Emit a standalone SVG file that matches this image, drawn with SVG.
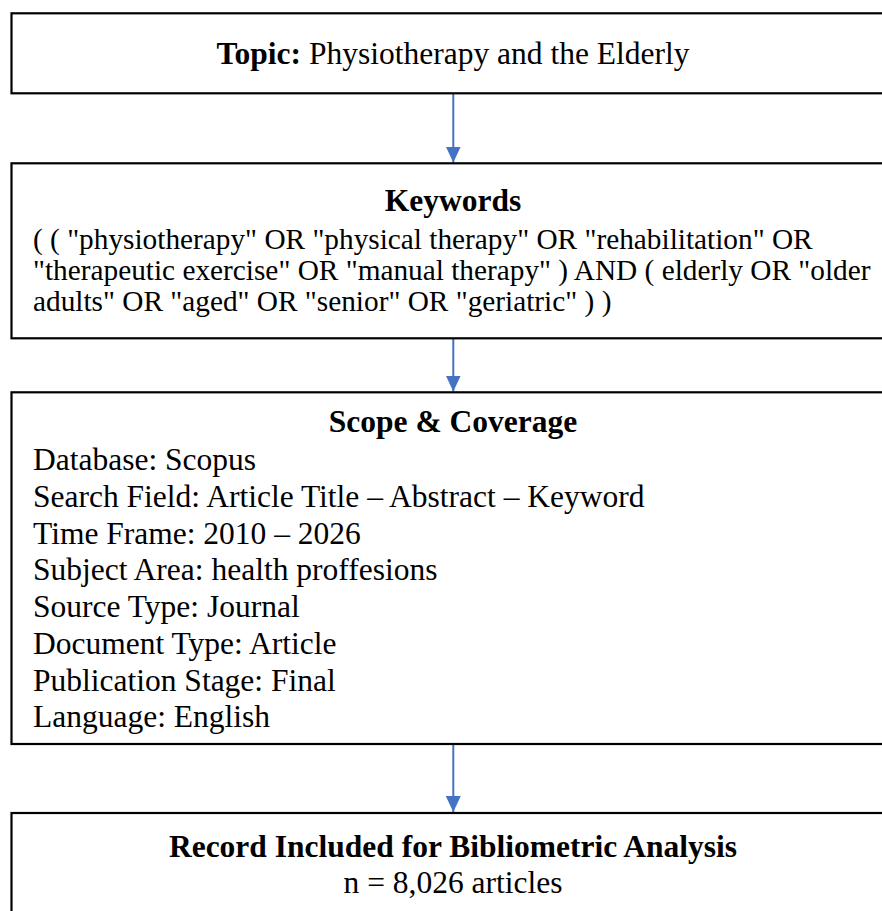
<svg xmlns="http://www.w3.org/2000/svg" width="882" height="911" viewBox="0 0 882 911">
<style>
.box{fill:#fff;stroke:#000;stroke-width:2.2}
.t{font-family:"Liberation Serif","Times New Roman",serif;fill:#000}
.b{font-weight:bold}
.c{text-anchor:middle}
.f31{font-size:31.5px}
.f29{font-size:29.3px}
.conn{stroke:#4472C4;stroke-width:2;fill:none}
</style>
<defs>
<marker id="ah" markerUnits="userSpaceOnUse" markerWidth="16" markerHeight="15" refX="16" refY="7.5" orient="auto" viewBox="0 0 16 15">
<polygon points="0,0 16,7.5 0,15" fill="#4472C4"/>
</marker>
</defs>
<rect width="882" height="911" fill="#fff"/>
<g id="connectors">
<line class="conn" x1="453.3" y1="94" x2="453.3" y2="162.5" marker-end="url(#ah)"/>
<line class="conn" x1="453.3" y1="339" x2="453.3" y2="391.5" marker-end="url(#ah)"/>
<line class="conn" x1="453.3" y1="745" x2="453.3" y2="812" marker-end="url(#ah)"/>
</g>
<g id="topic">
<rect class="box" x="11.5" y="13.3" width="890" height="80"/>
<text class="t f31 c" x="453" y="64"><tspan class="b">Topic:</tspan> Physiotherapy and the Elderly</text>
</g>
<g id="keywords">
<rect class="box" x="11.5" y="163.3" width="890" height="175"/>
<text class="t f31 b c" x="453" y="210.5">Keywords</text>
<text class="t f29" x="33" y="249">( ( "physiotherapy" OR "physical therapy" OR "rehabilitation" OR</text>
<text class="t f29" x="33" y="280">"therapeutic exercise" OR "manual therapy" ) AND ( elderly OR "older</text>
<text class="t f29" x="33" y="311">adults" OR "aged" OR "senior" OR "geriatric" ) )</text>
</g>
<g id="scope">
<rect class="box" x="11.5" y="392.3" width="890" height="351.7"/>
<text class="t f31 b c" x="453" y="432">Scope &amp; Coverage</text>
<text class="t f31" x="33" y="470">Database: Scopus</text>
<text class="t f31" x="33" y="506.8">Search Field: Article Title – Abstract – Keyword</text>
<text class="t f31" x="33" y="543.5">Time Frame: 2010 – 2026</text>
<text class="t f31" x="33" y="580.3">Subject Area: health proffesions</text>
<text class="t f31" x="33" y="617">Source Type: Journal</text>
<text class="t f31" x="33" y="653.8">Document Type: Article</text>
<text class="t f31" x="33" y="690.5">Publication Stage: Final</text>
<text class="t f31" x="33" y="727.3">Language: English</text>
</g>
<g id="record">
<rect class="box" x="11.5" y="813" width="890" height="120"/>
<text class="t f31 b c" x="453" y="856.7">Record Included for Bibliometric Analysis</text>
<text class="t f31 c" x="453" y="892.7">n = 8,026 articles</text>
</g>
</svg>
